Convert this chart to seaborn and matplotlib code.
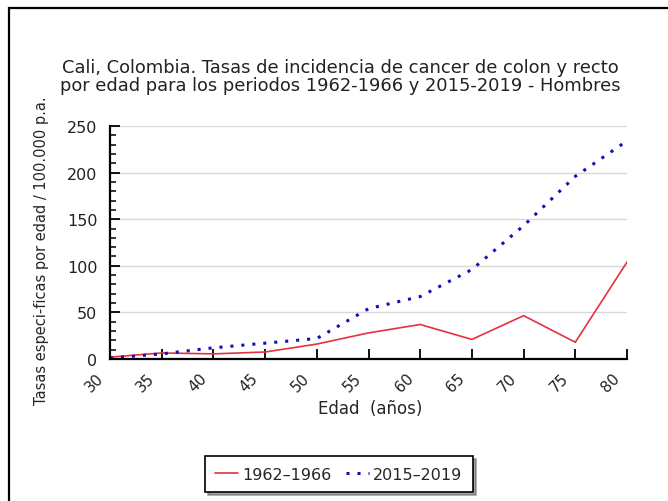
import numpy as np
import pandas as pd
import matplotlib
matplotlib.use("Agg")
import matplotlib.pyplot as plt
from matplotlib.patches import Rectangle
from matplotlib.ticker import MultipleLocator
from matplotlib.transforms import ScaledTranslation
import seaborn as sns

sns.set_style("white")
plt.rcParams['font.family'] = ['DejaVu Sans']

# Data
edad = [30, 35, 40, 45, 50, 55, 60, 65, 70, 75, 80]
tasas_1962 = [2, 6.5, 5.5, 7.5, 16, 28, 37, 21, 46.5, 18, 104]
tasas_2015 = [1, 5.5, 12, 17, 22, 54, 67, 96, 143, 196, 234]
periodos = ['1962\u20131966', '2015\u20132019']

df = pd.DataFrame({
    'edad': edad * 2,
    'tasa': tasas_1962 + tasas_2015,
    'periodo': [periodos[0]] * len(edad) + [periodos[1]] * len(edad),
})

fig = plt.figure(figsize=(6.68, 5.02), dpi=100)
ax = fig.add_axes([110/668, 1 - 360/502, 517/668, 233/502])

# outer frame (open on the right and bottom, like the cropped original)
fig.patches.append(Rectangle((9/668, -0.05), 1.1, (502 - 9)/502 + 0.05,
                             transform=fig.transFigure, fill=False,
                             edgecolor='black', linewidth=1.6))

sns.lineplot(data=df[df.periodo == periodos[0]], x='edad', y='tasa', ax=ax,
             color='#e4323e', linewidth=1.2, label=periodos[0])
sns.lineplot(data=df[df.periodo == periodos[1]], x='edad', y='tasa', ax=ax,
             color='#1010b8', linewidth=2.2, linestyle=(0, (1, 2.6)),
             label=periodos[1])

ax.set_xlim(30, 80)
ax.set_ylim(0, 250)
ax.xaxis.set_major_locator(MultipleLocator(5))
ax.yaxis.set_major_locator(MultipleLocator(50))
ax.yaxis.set_minor_locator(MultipleLocator(10))
ax.grid(axis='y', color='#d8d8d8', linewidth=1)
ax.set_axisbelow(True)

for s in ['top', 'right']:
    ax.spines[s].set_visible(False)
for s in ['left', 'bottom']:
    ax.spines[s].set_linewidth(1.6)
    ax.spines[s].set_color('black')

ax.tick_params(axis='both', which='major', direction='in', length=7,
               width=1.3, color='black', labelsize=11.5, labelcolor='#222222',
               bottom=True, left=True)
ax.tick_params(axis='y', which='minor', direction='in', length=4,
               width=1.1, color='black', left=True)
ax.tick_params(axis='x', pad=8, labelsize=10.8)
ax.tick_params(axis='y', pad=9)
shift = ScaledTranslation(-4/100, 0, fig.dpi_scale_trans)
for lab in ax.get_xticklabels():
    lab.set_rotation(45)
    lab.set_ha('right')
    lab.set_va('top')
    lab.set_transform(lab.get_transform() + shift)

ax.set_xlabel('Edad  (años)', fontsize=12)
ax.xaxis.set_label_coords((370 - 110)/517, -(400 - 360)/233)
ax.set_ylabel('Tasas especi-ficas por edad / 100.000 p.a.', fontsize=10.5)
ax.yaxis.set_label_coords(-(110 - 49)/517, (360 - 251)/233)

fig.text(340/668, 1 - 77/502,
         'Cali, Colombia. Tasas de incidencia de cancer de colon y recto\n'
         'por edad para los periodos 1962-1966 y 2015-2019 - Hombres',
         ha='center', va='center', fontsize=12.9, linespacing=1.05,
         color='#222222')

ax.legend_.remove()
leg = fig.legend(handles=ax.get_lines()[:2], labels=periodos,
                 loc='center', bbox_to_anchor=(339/668, 1 - 475/502),
                 ncol=2, frameon=True, fancybox=False, shadow=True,
                 fontsize=11.5, handlelength=1.4, columnspacing=0.9,
                 handletextpad=0.3, borderpad=0.65)
leg.get_frame().set_edgecolor('black')
leg.get_frame().set_linewidth(1.2)

fig.savefig('out.png', dpi=100)
